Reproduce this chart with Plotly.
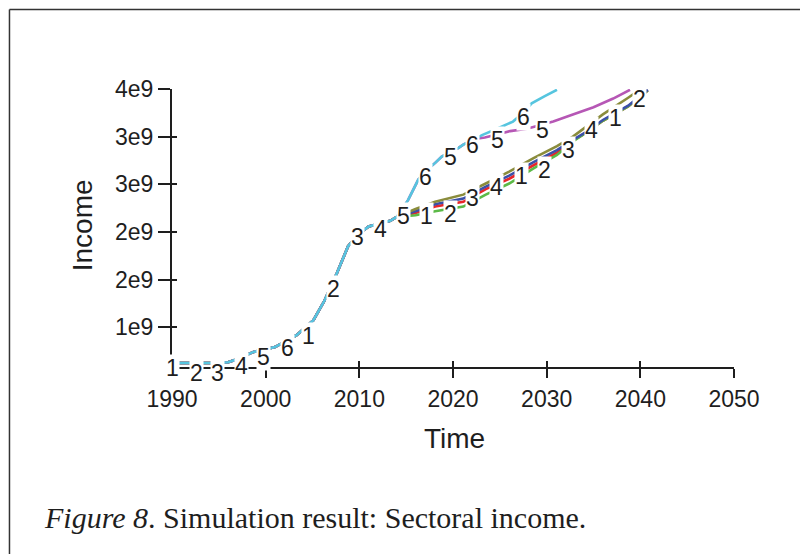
import plotly.graph_objects as go

# ---------------- data (income in units of 1e9) ----------------
years_common = [1990, 1992, 1994, 1996, 1997, 1998.7, 2001, 2003.3, 2005.1, 2006.3,
                2007.6, 2008.8, 2010, 2011, 2012.5, 2013.3, 2014]
income_common = [0.55, 0.55, 0.55, 0.56, 0.60, 0.69, 0.75, 0.90, 1.09, 1.34,
                 1.68, 2.02, 2.18, 2.27, 2.31, 2.34, 2.39]

# shared path of series 5 and 6 after 2014
years_upper = [2015.2, 2016.3, 2017.2, 2018.1, 2018.8, 2020.6, 2021.1, 2022.3]
income_upper = [2.60, 2.86, 2.98, 3.07, 3.15, 3.26, 3.30, 3.37]

years_s6 = [2023.1, 2024.7, 2026.4, 2027.5, 2028.4, 2029.8, 2031.1]
income_s6 = [3.42, 3.50, 3.59, 3.70, 3.82, 3.91, 3.99]

years_s5 = [2023.4, 2024.8, 2026.1, 2027.9, 2029.2, 2030.7, 2032.8, 2035.0, 2037.1, 2038.9]
income_s5 = [3.39, 3.43, 3.47, 3.50, 3.54, 3.59, 3.68, 3.77, 3.88, 3.99]

# lower cluster (series 1-4) after 2014
years_lower = [2016, 2018.1, 2021.1, 2023.5, 2026, 2028.6, 2031.1, 2032.8, 2034.1, 2036.0, 2038.7, 2040.8]
income_s1 = [2.46, 2.55, 2.62, 2.77, 2.91, 3.08, 3.23, 3.36, 3.45, 3.61, 3.79, 3.99]
income_s2 = [2.44, 2.52, 2.58, 2.74, 2.87, 3.04, 3.20, 3.35, 3.44, 3.60, 3.78, 3.98]
income_s3 = [2.41, 2.46, 2.52, 2.67, 2.81, 3.00, 3.17, 3.34, 3.44, 3.60, 3.78, 3.98]
income_s4 = [2.49, 2.58, 2.67, 2.81, 2.96, 3.13, 3.28, 3.40, 3.51, 3.68, 3.89, 4.06]

# Vensim-style series number labels placed along the lines
label_text = ["1", "2", "3", "4", "5", "6", "1", "2", "3", "4", "5",
              "1", "2", "3", "4", "1", "2", "3", "4", "1", "2",
              "6", "5", "6", "5", "6", "5"]
label_year = [1990.0, 1992.6, 1994.9, 1997.4, 1999.8, 2002.3, 2004.6, 2007.2, 2009.8, 2012.3, 2014.7,
              2017.2, 2019.7, 2022.1, 2024.6, 2027.3, 2029.8, 2032.3, 2034.8, 2037.3, 2039.9,
              2017.1, 2019.7, 2022.1, 2024.8, 2027.5, 2029.6]
label_value = [0.49, 0.43, 0.43, 0.51, 0.62, 0.74, 0.89, 1.48, 2.14, 2.24, 2.40,
               2.40, 2.42, 2.63, 2.77, 2.90, 2.98, 3.23, 3.49, 3.64, 3.87,
               2.89, 3.15, 3.30, 3.36, 3.65, 3.49]

x_ticks = [1990, 2000, 2010, 2020, 2030, 2040, 2050]
y_tick_vals = [1.0, 1.6, 2.2, 2.8, 3.4, 4.0]
y_tick_text = ["1e9", "2e9", "2e9", "3e9", "3e9", "4e9"]
y_min, y_max = 0.5, 4.0

colors = {1: "#3b4fa8", 2: "#e8262a", 3: "#5cba47", 4: "#8a8c3c", 5: "#b657b5", 6: "#56c5df"}

# ---------------- build series ----------------
lower = {1: income_s1, 2: income_s2, 3: income_s3, 4: income_s4}
series = {}
for k, vals in lower.items():
    series[k] = (years_common + years_lower, income_common + vals)
series[5] = (years_common + years_upper + years_s5, income_common + income_upper + income_s5)
series[6] = (years_common + years_upper + years_s6, income_common + income_upper + income_s6)

fig = go.Figure()
for k in [2, 3, 1, 4, 5, 6]:
    xs, ys = series[k]
    fig.add_trace(go.Scatter(x=xs, y=[v * 1e9 for v in ys], mode="lines",
                             line=dict(color=colors[k], width=2.6),
                             showlegend=False, hoverinfo="skip"))

# invisible trace for overlay axes (inside tick marks)
fig.add_trace(go.Scatter(x=[None], y=[None], xaxis="x2", yaxis="y2", mode="lines",
                         showlegend=False, hoverinfo="skip"))

sans = "Liberation Sans"
ink = "#1e1e1e"

OFF = 8  # page body offset
L = 171.7 - OFF
T = 89.3 - OFF
R = 808 - 734.3 + OFF
B = 554 - 367.0 + OFF
W = 808 - L - R
H = 554 - T - B

def px_x(p):
    return (p - OFF - L) / W

def px_y(p):
    return (554 - B - (p - OFF)) / H

annotations = []
for t, xv, yv in zip(label_text, label_year, label_value):
    annotations.append(dict(x=xv, y=(yv - y_min) / (y_max - y_min), xref="x", yref="paper",
                            text=t, showarrow=False, xanchor="center", yanchor="middle",
                            font=dict(family=sans, size=23, color=ink),
                            bgcolor="white", borderpad=0))

annotations.append(dict(x=px_x(82), y=px_y(225), xref="paper", yref="paper", text="Income",
                        textangle=-90, showarrow=False, xanchor="center", yanchor="middle",
                        font=dict(family=sans, size=28, color=ink)))
annotations.append(dict(x=px_x(455), y=px_y(438), xref="paper", yref="paper", text="Time",
                        showarrow=False, xanchor="center", yanchor="middle",
                        font=dict(family=sans, size=28, color=ink)))
annotations.append(dict(x=px_x(42), y=px_y(517), xref="paper", yref="paper",
                        text="<i>Figure 8</i>. Simulation result: Sectoral income.",
                        xanchor="left", yanchor="middle", showarrow=False,
                        font=dict(family="Liberation Serif", size=30, color=ink)))

shapes = [
    dict(type="line", xref="paper", yref="paper", x0=px_x(9), x1=px_x(820), y0=px_y(10), y1=px_y(10),
         line=dict(color="#333333", width=1.5)),
    dict(type="line", xref="paper", yref="paper", x0=px_x(9), x1=px_x(9), y0=px_y(10), y1=px_y(570),
         line=dict(color="#333333", width=1.5)),
]

fig.update_layout(
    width=808, height=554,
    margin=dict(l=L, r=R, t=T, b=B),
    paper_bgcolor="white", plot_bgcolor="white",
    xaxis=dict(range=[1990, 2050], tickvals=x_ticks, ticks="outside", ticklen=9, tickwidth=2,
               tickcolor=ink, showline=True, linecolor=ink, linewidth=2, showgrid=False,
               zeroline=False, tickfont=dict(family=sans, size=23, color=ink),
               ticklabelstandoff=1),
    yaxis=dict(range=[y_min * 1e9, y_max * 1e9], tickvals=[v * 1e9 for v in y_tick_vals],
               ticktext=y_tick_text, ticks="outside", ticklen=12, tickwidth=2, tickcolor=ink,
               showline=True, linecolor=ink, linewidth=2, showgrid=False, zeroline=False,
               tickfont=dict(family=sans, size=23, color=ink), ticklabelstandoff=0),
    xaxis2=dict(range=[1990, 2050], overlaying="x", anchor="y2", tickvals=x_ticks, ticks="inside",
                ticklen=6, tickwidth=2, tickcolor=ink, showticklabels=False, showline=False,
                showgrid=False, zeroline=False),
    yaxis2=dict(range=[y_min * 1e9, y_max * 1e9], overlaying="y", anchor="x2", side="left",
                tickvals=[v * 1e9 for v in y_tick_vals], ticks="inside", ticklen=5, tickwidth=2,
                tickcolor=ink, showticklabels=False, showline=False, showgrid=False, zeroline=False),
    annotations=annotations,
    shapes=shapes,
)

fig.write_html("out.html")
